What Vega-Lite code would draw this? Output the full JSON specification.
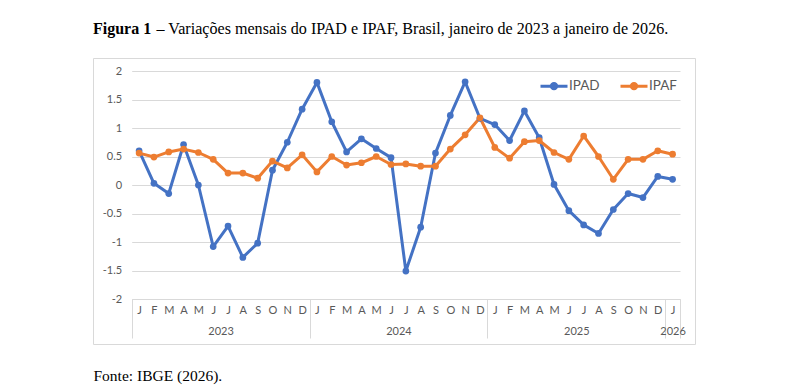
{
  "$schema": "https://vega.github.io/schema/vega-lite/v6.json",
  "autosize": {"type": "none"},
  "width": 602,
  "height": 286,
  "padding": {"left": 93, "top": 58, "right": 96, "bottom": 47},
  "background": "white",
  "title": {
    "text": "Figura 1",
    "subtitle": "\u200b\u00a0\u00a0\u00a0\u00a0\u00a0\u00a0\u00a0\u00a0\u00a0\u00a0\u00a0\u00a0\u00a0\u00a0\u00a0\u2009– Variações mensais do IPAD e IPAF, Brasil, janeiro de 2023 a janeiro de 2026.",
    "anchor": "start",
    "frame": "group",
    "font": "Liberation Serif",
    "fontSize": 16,
    "fontWeight": "bold",
    "color": "black",
    "subtitleFont": "Liberation Serif",
    "subtitleFontSize": 16.1,
    "subtitleColor": "black",
    "subtitlePadding": -16,
    "offset": 21
  },
  "config": {
    "view": {"stroke": "#d9d9d9", "strokeWidth": 1}
  },
  "data": {
    "values": [
      {"t": 0, "mes": "2023-01", "serie": "IPAD", "valor": 0.60},
      {"t": 1, "mes": "2023-02", "serie": "IPAD", "valor": 0.03},
      {"t": 2, "mes": "2023-03", "serie": "IPAD", "valor": -0.15},
      {"t": 3, "mes": "2023-04", "serie": "IPAD", "valor": 0.71},
      {"t": 4, "mes": "2023-05", "serie": "IPAD", "valor": 0.00},
      {"t": 5, "mes": "2023-06", "serie": "IPAD", "valor": -1.08},
      {"t": 6, "mes": "2023-07", "serie": "IPAD", "valor": -0.72},
      {"t": 7, "mes": "2023-08", "serie": "IPAD", "valor": -1.27},
      {"t": 8, "mes": "2023-09", "serie": "IPAD", "valor": -1.02},
      {"t": 9, "mes": "2023-10", "serie": "IPAD", "valor": 0.26},
      {"t": 10, "mes": "2023-11", "serie": "IPAD", "valor": 0.75},
      {"t": 11, "mes": "2023-12", "serie": "IPAD", "valor": 1.33},
      {"t": 12, "mes": "2024-01", "serie": "IPAD", "valor": 1.80},
      {"t": 13, "mes": "2024-02", "serie": "IPAD", "valor": 1.11},
      {"t": 14, "mes": "2024-03", "serie": "IPAD", "valor": 0.58},
      {"t": 15, "mes": "2024-04", "serie": "IPAD", "valor": 0.81},
      {"t": 16, "mes": "2024-05", "serie": "IPAD", "valor": 0.64},
      {"t": 17, "mes": "2024-06", "serie": "IPAD", "valor": 0.48},
      {"t": 18, "mes": "2024-07", "serie": "IPAD", "valor": -1.51},
      {"t": 19, "mes": "2024-08", "serie": "IPAD", "valor": -0.74},
      {"t": 20, "mes": "2024-09", "serie": "IPAD", "valor": 0.56},
      {"t": 21, "mes": "2024-10", "serie": "IPAD", "valor": 1.22},
      {"t": 22, "mes": "2024-11", "serie": "IPAD", "valor": 1.81},
      {"t": 23, "mes": "2024-12", "serie": "IPAD", "valor": 1.17},
      {"t": 24, "mes": "2025-01", "serie": "IPAD", "valor": 1.06},
      {"t": 25, "mes": "2025-02", "serie": "IPAD", "valor": 0.78},
      {"t": 26, "mes": "2025-03", "serie": "IPAD", "valor": 1.30},
      {"t": 27, "mes": "2025-04", "serie": "IPAD", "valor": 0.83},
      {"t": 28, "mes": "2025-05", "serie": "IPAD", "valor": 0.01},
      {"t": 29, "mes": "2025-06", "serie": "IPAD", "valor": -0.45},
      {"t": 30, "mes": "2025-07", "serie": "IPAD", "valor": -0.70},
      {"t": 31, "mes": "2025-08", "serie": "IPAD", "valor": -0.85},
      {"t": 32, "mes": "2025-09", "serie": "IPAD", "valor": -0.43},
      {"t": 33, "mes": "2025-10", "serie": "IPAD", "valor": -0.15},
      {"t": 34, "mes": "2025-11", "serie": "IPAD", "valor": -0.22},
      {"t": 35, "mes": "2025-12", "serie": "IPAD", "valor": 0.15},
      {"t": 36, "mes": "2026-01", "serie": "IPAD", "valor": 0.10},
      {"t": 0, "mes": "2023-01", "serie": "IPAF", "valor": 0.56},
      {"t": 1, "mes": "2023-02", "serie": "IPAF", "valor": 0.49},
      {"t": 2, "mes": "2023-03", "serie": "IPAF", "valor": 0.58},
      {"t": 3, "mes": "2023-04", "serie": "IPAF", "valor": 0.63},
      {"t": 4, "mes": "2023-05", "serie": "IPAF", "valor": 0.57},
      {"t": 5, "mes": "2023-06", "serie": "IPAF", "valor": 0.45},
      {"t": 6, "mes": "2023-07", "serie": "IPAF", "valor": 0.21},
      {"t": 7, "mes": "2023-08", "serie": "IPAF", "valor": 0.21},
      {"t": 8, "mes": "2023-09", "serie": "IPAF", "valor": 0.12},
      {"t": 9, "mes": "2023-10", "serie": "IPAF", "valor": 0.42},
      {"t": 10, "mes": "2023-11", "serie": "IPAF", "valor": 0.30},
      {"t": 11, "mes": "2023-12", "serie": "IPAF", "valor": 0.53},
      {"t": 12, "mes": "2024-01", "serie": "IPAF", "valor": 0.23},
      {"t": 13, "mes": "2024-02", "serie": "IPAF", "valor": 0.50},
      {"t": 14, "mes": "2024-03", "serie": "IPAF", "valor": 0.35},
      {"t": 15, "mes": "2024-04", "serie": "IPAF", "valor": 0.39},
      {"t": 16, "mes": "2024-05", "serie": "IPAF", "valor": 0.50},
      {"t": 17, "mes": "2024-06", "serie": "IPAF", "valor": 0.36},
      {"t": 18, "mes": "2024-07", "serie": "IPAF", "valor": 0.37},
      {"t": 19, "mes": "2024-08", "serie": "IPAF", "valor": 0.33},
      {"t": 20, "mes": "2024-09", "serie": "IPAF", "valor": 0.33},
      {"t": 21, "mes": "2024-10", "serie": "IPAF", "valor": 0.63},
      {"t": 22, "mes": "2024-11", "serie": "IPAF", "valor": 0.88},
      {"t": 23, "mes": "2024-12", "serie": "IPAF", "valor": 1.18},
      {"t": 24, "mes": "2025-01", "serie": "IPAF", "valor": 0.66},
      {"t": 25, "mes": "2025-02", "serie": "IPAF", "valor": 0.47},
      {"t": 26, "mes": "2025-03", "serie": "IPAF", "valor": 0.76},
      {"t": 27, "mes": "2025-04", "serie": "IPAF", "valor": 0.78},
      {"t": 28, "mes": "2025-05", "serie": "IPAF", "valor": 0.57},
      {"t": 29, "mes": "2025-06", "serie": "IPAF", "valor": 0.45},
      {"t": 30, "mes": "2025-07", "serie": "IPAF", "valor": 0.86},
      {"t": 31, "mes": "2025-08", "serie": "IPAF", "valor": 0.50},
      {"t": 32, "mes": "2025-09", "serie": "IPAF", "valor": 0.10},
      {"t": 33, "mes": "2025-10", "serie": "IPAF", "valor": 0.45},
      {"t": 34, "mes": "2025-11", "serie": "IPAF", "valor": 0.45},
      {"t": 35, "mes": "2025-12", "serie": "IPAF", "valor": 0.60},
      {"t": 36, "mes": "2026-01", "serie": "IPAF", "valor": 0.54}
    ]
  },
  "mark": {
    "type": "line",
    "strokeWidth": 3,
    "strokeJoin": "round",
    "strokeCap": "round",
    "point": {"filled": true, "size": 45}
  },
  "encoding": {
    "x": {
      "field": "t",
      "type": "quantitative",
      "scale": {"domain": [-0.5, 36.5], "range": [38.7, 587], "nice": false, "zero": false},
      "axis": {
        "title": "Fonte: IBGE (2026).",
        "titleFont": "Liberation Serif",
        "titleFontSize": 15.5,
        "titleFontWeight": "normal",
        "titleColor": "black",
        "titleAnchor": "start",
        "titleAlign": "left",
        "titleBaseline": "alphabetic",
        "titleX": 0,
        "titleY": 81,
        "offset": -45,
        "values": [-0.5, 0, 1, 2, 3, 4, 5, 6, 7, 8, 9, 10, 11, 12, 13, 14, 15, 16, 17, 18, 19, 20, 21, 22, 23, 24, 25, 26, 27, 28, 29, 30, 31, 32, 33, 34, 35, 36, 11.5, 23.5, 35.5, 36.5, 5.5, 17.5, 29.5, 36.001],
        "labelExpr": "datum.value % 1 == 0 ? substring('JFMAMJJASOND', datum.value % 12, datum.value % 12 + 1) : ((datum.value + 0.5) % 12 == 6 ? '' + (2023 + floor(datum.value / 12)) : ((datum.value > 36 && datum.value < 36.1) ? '2026' : ''))",
        "labelOverlap": false,
        "labelFlush": false,
        "labelBound": false,
        "labelFont": "Lato",
        "labelFontSize": 11,
        "labelColor": "#595959",
        "labelPadding": {"condition": {"test": "(datum.value + 0.5) % 12 == 6 || (datum.value > 36 && datum.value < 36.1)", "value": -13}, "value": -34},
        "ticks": true,
        "tickSize": 39,
        "tickWidth": 1,
        "tickColor": {"condition": {"test": "(datum.value + 0.5) % 12 == 0 || datum.value == 36.5", "value": "#d9d9d9"}, "value": "transparent"},
        "domain": true,
        "domainColor": "#d9d9d9",
        "grid": false
      }
    },
    "y": {
      "field": "valor",
      "type": "quantitative",
      "scale": {"domain": [-2, 2], "range": [241, 13], "nice": false, "zero": false},
      "axis": {
        "title": null,
        "values": [-2, -1.5, -1, -0.5, 0, 0.5, 1, 1.5, 2],
        "labelExpr": "'' + datum.value",
        "offset": -38.7,
        "labelPadding": 10,
        "ticks": false,
        "domain": false,
        "grid": true,
        "gridColor": "#d9d9d9",
        "gridWidth": 1,
        "labelFont": "Lato",
        "labelFontSize": 11,
        "labelColor": "#595959"
      }
    },
    "color": {
      "field": "serie",
      "type": "nominal",
      "scale": {"domain": ["IPAD", "IPAF"], "range": ["#4472C4", "#ED7D31"]},
      "legend": {
        "orient": "none",
        "legendX": 446,
        "legendY": 13,
        "direction": "horizontal",
        "title": null,
        "labelFont": "Lato",
        "labelFontSize": 13.5,
        "labelColor": "#595959",
        "symbolType": "M-1,0H1M0.2,0A0.2,0.2,0,1,1,-0.2,0A0.2,0.2,0,1,1,0.2,0Z",
        "symbolSize": 729,
        "symbolStrokeWidth": 3,
        "columnPadding": 14,
        "labelOffset": 0,
        "padding": 0
      }
    }
  }
}
